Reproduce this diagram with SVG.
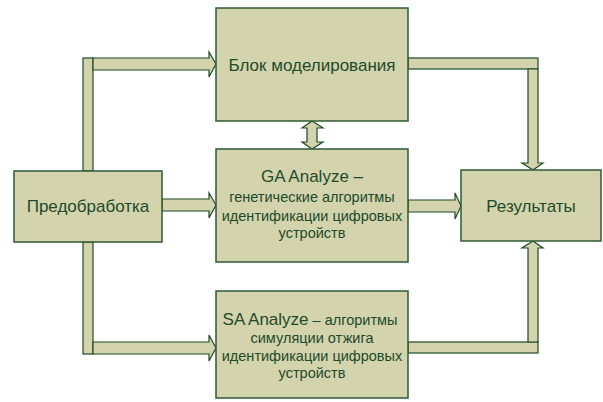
<svg xmlns="http://www.w3.org/2000/svg" width="603" height="402" viewBox="0 0 603 402">
<style>
.box{fill:#d3d3ad;stroke:#2f5a34;stroke-width:1.5}
.arr{fill:#d3d3ad;stroke:#1f4a25;stroke-width:1.2;stroke-linejoin:miter}
.t{font-family:"Liberation Sans",Arial,sans-serif;fill:#1f4a2a;text-anchor:middle}
.big{font-size:17px}
.sm{font-size:14.5px}
</style>
<rect width="603" height="402" fill="#ffffff"/>
<g id="connectors">
  <!-- Предобработка -> Блок -->
  <rect class="arr" x="83" y="58" width="10" height="113"/>
  <polygon class="arr" points="93,58 209,58 209,52 216,64 209,77 209,70 93,70"/>
  <!-- Предобработка -> GA -->
  <polygon class="arr" points="162,199 209,199 209,193 216,205 209,218 209,211 162,211"/>
  <!-- Предобработка -> SA -->
  <rect class="arr" x="83" y="242" width="10" height="112"/>
  <polygon class="arr" points="93,342 209,342 209,335 216,348 209,361 209,354 93,354"/>
  <!-- Блок -> Результаты -->
  <rect class="arr" x="408" y="58" width="130" height="11"/>
  <polygon class="arr" points="528,69 538,69 538,163 543,163 533,170 522,163 528,163"/>
  <!-- SA -> Результаты -->
  <rect class="arr" x="408" y="342" width="130" height="11"/>
  <polygon class="arr" points="528,342 538,342 538,248 543,248 533,241 522,248 528,248"/>
  <!-- GA -> Результаты -->
  <polygon class="arr" points="408,200 455,200 455,193 461,206 455,219 455,212 408,212"/>
  <!-- Блок <-> GA -->
  <polygon class="arr" points="312,121 323,128 317,128 317,142 323,142 312,149 302,142 307,142 307,128 302,128"/>
</g>
<g id="node-model">
  <rect class="box" x="216" y="8" width="192" height="113"/>
  <text class="t big" x="312" y="71">Блок моделирования</text>
</g>
<g id="node-ga">
  <rect class="box" x="216" y="149" width="192" height="113"/>
  <text class="t big" x="312" y="182">GA Analyze –</text>
  <text class="t sm" x="312" y="202">генетические алгоритмы</text>
  <text class="t sm" x="312" y="221">идентификации цифровых</text>
  <text class="t sm" x="312" y="238">устройств</text>
</g>
<g id="node-sa">
  <rect class="box" x="216" y="291" width="192" height="107"/>
  <text class="t" x="310" y="325"><tspan class="big">SA Analyze</tspan><tspan class="sm"> – алгоритмы</tspan></text>
  <text class="t sm" x="312" y="343">симуляции отжига</text>
  <text class="t sm" x="312" y="361">идентификации цифровых</text>
  <text class="t sm" x="312" y="378">устройств</text>
</g>
<g id="node-pre">
  <rect class="box" x="14" y="171" width="148" height="71"/>
  <text class="t big" x="88" y="212">Предобработка</text>
</g>
<g id="node-res">
  <rect class="box" x="461" y="170" width="140" height="71"/>
  <text class="t big" x="531" y="212">Результаты</text>
</g>
</svg>
